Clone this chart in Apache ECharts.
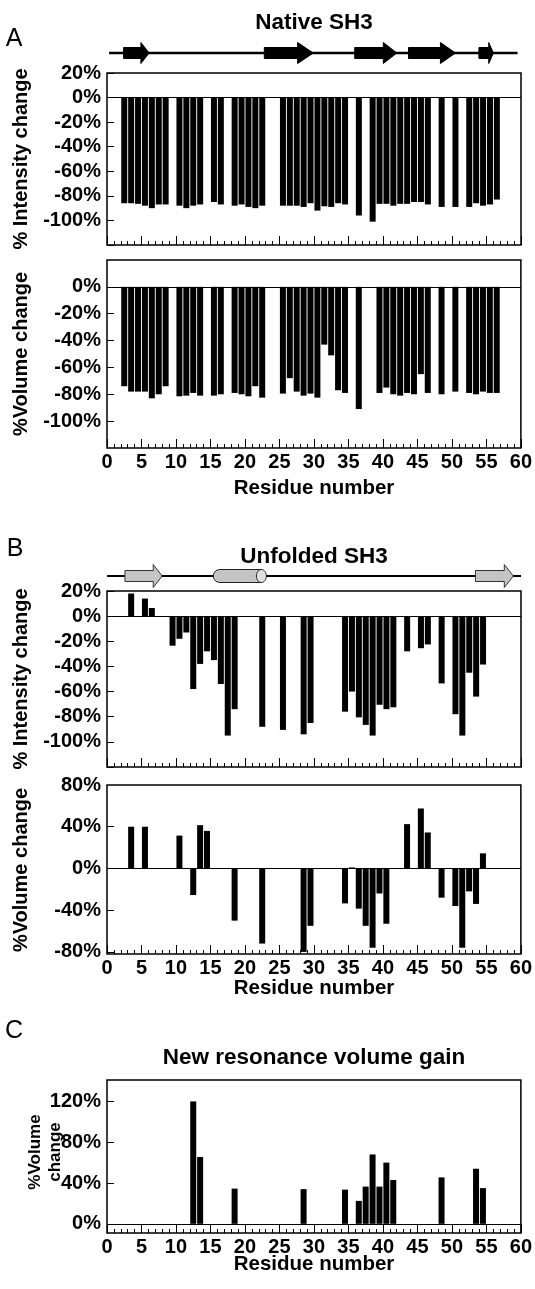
<!DOCTYPE html>
<html><head><meta charset="utf-8">
<script src="https://cdn.jsdelivr.net/npm/echarts@6/dist/echarts.min.js"></script>
<style>html,body{margin:0;padding:0;background:#fff}#c{width:535px;height:1289px}</style>
</head><body><div id="c"></div>
<script>
// ---------------- DATA ----------------
const residueTicks = [0,5,10,15,20,25,30,35,40,45,50,55,60];

// Panel A: native SH3
const nativeIntensityResidues = [2,3,4,5,6,7,8,10,11,12,13,15,16,18,19,20,21,22,25,26,27,28,29,30,31,32,33,34,36,38,39,40,41,42,43,44,45,46,48,50,52,53,54,55,56];
const nativeIntensityValues   = [-86,-86,-86.5,-88,-90,-87,-87,-88,-90,-88,-87,-85,-87,-88,-87,-89,-90,-88,-88,-88,-88,-89,-86,-92,-88.5,-89,-86,-87,-96,-101,-86.5,-86.5,-88,-86.5,-86.5,-85,-85,-87,-89,-89,-89,-86,-88,-87,-83];
const nativeVolumeResidues = [2,3,4,5,6,7,8,10,11,12,13,15,16,18,19,20,21,22,25,26,27,28,29,30,31,32,33,34,36,39,40,41,42,43,44,45,46,48,50,52,53,54,55,56];
const nativeVolumeValues   = [-74,-78,-78,-78,-83,-80,-74,-81.5,-81,-79,-81,-81,-80,-79,-80,-81.5,-74,-82.5,-79.5,-68,-78,-81,-79.5,-82.5,-43,-51,-77,-79,-91,-79,-75,-80,-81,-79,-80,-65,-79,-80,-78,-79,-80,-78,-79,-79];

// Panel B: unfolded SH3
const unfoldedIntensityResidues = [3,5,6,9,10,11,12,13,14,15,16,17,18,22,25,28,29,34,35,36,37,38,39,40,41,43,45,46,48,50,51,52,53,54];
const unfoldedIntensityValues   = [18,14,6.5,-23.5,-18,-13,-58,-38,-28,-35,-54,-95,-74,-88,-90.5,-94,-85,-76,-60,-80.5,-86.5,-95,-70.5,-74,-72.5,-28,-25.5,-22.5,-53.5,-78,-95,-45,-64,-38.5];
const unfoldedVolumeResidues = [3,5,10,12,13,14,18,22,28,29,34,35,36,37,38,39,40,43,45,46,48,50,51,52,53,54];
const unfoldedVolumeValues   = [40,40,31.5,-25.5,41.5,36,-50,-72,-80,-55,-33.5,1,-38.5,-55,-76,-24,-53,42.5,57.5,34.5,-28,-36,-76,-22,-34,14.5];

// Panel C: new resonance volume gain
const newResonanceResidues = [12,13,18,28,34,36,37,38,39,40,41,48,53,54];
const newResonanceValues   = [120,65.5,34.5,34,33.5,22.5,36.5,68,36.5,60,43,45.5,54,35];

// Secondary structure (residue spans)
const nativeBackbone = [[0.3, 59.5]];
const nativeStrands = [[2.4,6.1],[22.8,29.9],[35.9,42.0],[43.7,50.5],[53.9,56.0]];
const unfoldedBackbone = [[0, 60]];
const unfoldedStrands = [[2.6,8.0],[53.4,58.9]];
const unfoldedHelix = [[15.4,23.1]];

// ---------------- CHART ----------------
const FONT = '"Liberation Sans", Arial, Helvetica, sans-serif';
const LEFT = 107, WIDTH = 414;

const panels = [
  {top:73,  height:172, min:-120, max:20, interval:20, labels:[20,0,-20,-40,-60,-80,-100], xLabels:false, res:nativeIntensityResidues, val:nativeIntensityValues},
  {top:260, height:188, min:-120, max:20, interval:20, labels:[0,-20,-40,-60,-80,-100], ticks:[0,-20,-40,-60,-80,-100], xLabels:true, res:nativeVolumeResidues, val:nativeVolumeValues},
  {top:591, height:176, min:-120, max:20, interval:20, labels:[20,0,-20,-40,-60,-80,-100], xLabels:false, res:unfoldedIntensityResidues, val:unfoldedIntensityValues},
  {top:785, height:169, min:-82, max:80, labels:[80,40,0,-40,-80], ticks:[40,0,-40,-80], xLabels:true, res:unfoldedVolumeResidues, val:unfoldedVolumeValues},
  {top:1080, height:153, min:-9, max:141, labels:[0,40,80,120], ticks:[0,40,80,120], xLabels:true, res:newResonanceResidues, val:newResonanceValues}
];

const grid = [], xAxis = [], yAxis = [], series = [];
panels.forEach((p, i) => {
  grid.push({left:LEFT, width:WIDTH, top:p.top, height:p.height, show:true, borderColor:'#000', borderWidth:1.5, backgroundColor:'transparent'});
  xAxis.push({type:'value', gridIndex:i, min:0, max:60, interval:5, position:'bottom',
    axisLine:{show:false, onZero:false},
    axisTick:{show:true, inside:true, length:9, lineStyle:{color:'#000', width:1}},
    minorTick:{show:true, splitNumber:5, length:4, lineStyle:{color:'#000', width:1}},
    splitLine:{show:false}, minorSplitLine:{show:false},
    axisLabel:{show:p.xLabels, margin:4, color:'#000', fontSize:20, fontWeight:'bold', fontFamily:FONT,
      customValues: residueTicks}
  });
  const ya = {type:'value', gridIndex:i, min:p.min, max:p.max,
    axisLine:{show:false, onZero:false},
    axisTick:{show:true, inside:true, length:7, lineStyle:{color:'#000', width:1}},
    splitLine:{show:false},
    axisLabel:{color:'#000', fontSize:20, fontWeight:'bold', fontFamily:FONT, margin:6,
      formatter: v => v + '%', customValues: p.labels}
  };
  if (p.ticks) ya.axisTick.customValues = p.ticks;
  if (p.interval) ya.interval = p.interval;
  yAxis.push(ya);
  series.push({type:'bar', xAxisIndex:i, yAxisIndex:i, silent:true,
    data: p.res.map((r, k) => [r + 0.5, p.val[k]]),
    barWidth:6, itemStyle:{color:'#000'},
    markLine:{silent:true, symbol:'none', label:{show:false},
      lineStyle:{color:'#000', width:1.2, type:'solid'}, data:[{yAxis:0}]}
  });
});

// structure strips
const strips = [{top:43, height:20}, {top:566, height:20}];
strips.forEach((s, j) => {
  const gi = panels.length + j;
  grid.push({left:LEFT, width:WIDTH, top:s.top, height:s.height, show:false});
  xAxis.push({type:'value', gridIndex:gi, min:0, max:60, show:false});
  yAxis.push({type:'value', gridIndex:gi, min:0, max:1, show:false});
});

function lineRender(width) {
  return (params, api) => {
    const a = api.coord([api.value(0), 0.5]);
    const b = api.coord([api.value(1), 0.5]);
    return {type:'line', shape:{x1:a[0], y1:a[1], x2:b[0], y2:b[1]}, style:{stroke:'#000', lineWidth:width}};
  };
}
function arrowRender(hb, hh, headFrac, fill, stroke) {
  return (params, api) => {
    const a = api.coord([api.value(0), 0.5]);
    const b = api.coord([api.value(1), 0.5]);
    const x0 = a[0], x1 = b[0], y = a[1];
    const xh = x1 - (x1 - x0) * headFrac;
    return {type:'polygon', shape:{points:[[x0,y-hb],[xh,y-hb],[xh,y-hh],[x1,y],[xh,y+hh],[xh,y+hb],[x0,y+hb]]},
      style:{fill:fill, stroke:stroke, lineWidth:1}};
  };
}
function helixRender(h, capW) {
  return (params, api) => {
    const a = api.coord([api.value(0), 0.5]);
    const b = api.coord([api.value(1), 0.5]);
    const x0 = a[0], x1 = b[0] - capW, y = a[1];
    return {type:'group', children:[
      {type:'rect', shape:{x:x0, y:y-h/2, width:x1-x0, height:h, r:[h/2,0,0,h/2]}, style:{fill:'#c4c4c4', stroke:'#222', lineWidth:1}},
      {type:'ellipse', shape:{cx:x1, cy:y, rx:capW, ry:h/2}, style:{fill:'#e0e0e0', stroke:'#222', lineWidth:1}}
    ]};
  };
}
const gA = panels.length, gB = panels.length + 1;
series.push({type:'custom', xAxisIndex:gA, yAxisIndex:gA, silent:true, renderItem:lineRender(2.5), data:nativeBackbone, encode:{x:[0,1]}, clip:false, z:1});
series.push({type:'custom', xAxisIndex:gA, yAxisIndex:gA, silent:true, renderItem:arrowRender(5.5,10.5,0.32,'#000','#000'), data:nativeStrands, encode:{x:[0,1]}, clip:false, z:2});
series.push({type:'custom', xAxisIndex:gB, yAxisIndex:gB, silent:true, renderItem:lineRender(2), data:unfoldedBackbone, encode:{x:[0,1]}, clip:false, z:1});
series.push({type:'custom', xAxisIndex:gB, yAxisIndex:gB, silent:true, renderItem:arrowRender(5.5,11.5,0.24,'#c4c4c4','#333'), data:unfoldedStrands, encode:{x:[0,1]}, clip:false, z:2});
series.push({type:'custom', xAxisIndex:gB, yAxisIndex:gB, silent:true, renderItem:helixRender(13,5), data:unfoldedHelix, encode:{x:[0,1]}, clip:false, z:2});

function txt(text, x, y, size, bold, rot, lh) {
  return {type:'text', x:x, y:y, rotation: rot || 0, silent:true,
    style:{text:text, fill:'#000', font:(bold?'bold ':'') + size + 'px ' + FONT, textAlign:'center', textVerticalAlign:'middle', lineHeight: lh || (size + 3)}};
}
const R = Math.PI/2;
const graphic = [
  txt('A', 14, 39, 25, false),
  txt('B', 15, 549, 25, false),
  txt('C', 14, 1031, 25, false),
  txt('Native SH3', 314, 23, 22.5, true),
  txt('Unfolded SH3', 314, 557, 22.5, true),
  txt('New resonance volume gain', 314, 1058, 22.5, true),
  txt('Residue number', 314, 488, 20.5, true),
  txt('Residue number', 314, 988, 20.5, true),
  txt('Residue number', 314, 1264, 20.5, true),
  txt('% Intensity change', 21, 159, 20, true, R),
  txt('%Volume change', 21, 354, 20, true, R),
  txt('% Intensity change', 21, 679, 20, true, R),
  txt('%Volume change', 21, 870, 20, true, R),
  txt('%Volume\nchange', 45, 1152, 17, true, R, 20)
];

const chart = echarts.init(document.getElementById('c'), null, {renderer:'canvas'});
chart.setOption({animation:false, backgroundColor:'#fff', grid, xAxis, yAxis, series, graphic});
</script></body></html>
